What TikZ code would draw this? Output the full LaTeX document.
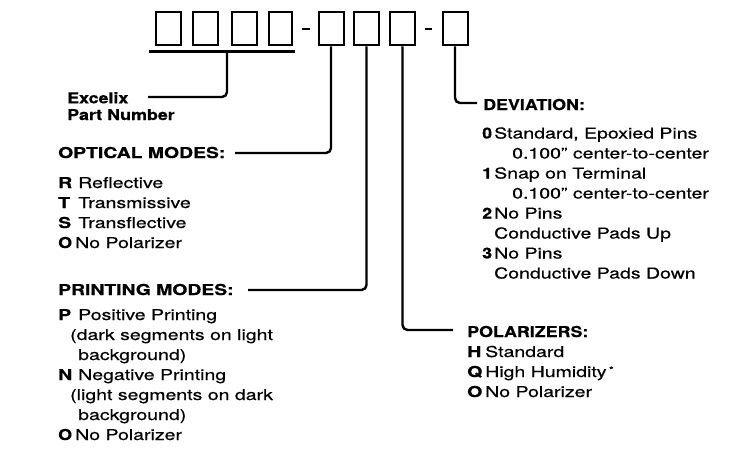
\documentclass[tikz,border=0pt]{standalone}
\usepackage{fontspec}
\setmainfont{TeX Gyre Heros}[FakeStretch=1.3,FakeBold=0.6]
\newfontfamily\widebold{TeX Gyre Heros}[FakeStretch=1.29,FakeBold=0.6]
\newfontfamily\narrowfont{TeX Gyre Heros}[FakeStretch=1.19,FakeBold=0.6]
\newcommand\codebox[2]{\makebox[#1][l]{\textbf{#2}}}
\newcommand\digitcode[1]{\makebox[12pt][l]{\narrowfont\bfseries #1}}
\newcommand\ocode{\makebox[17pt][l]{\narrowfont\bfseries O}}
\begin{document}
\begin{tikzpicture}[x=1pt,y=-1pt,
  font=\fontsize{15}{17}\selectfont,
  digitbox/.style={draw, line width=2pt, minimum width=25pt, minimum height=33pt, inner sep=0pt},
  conn/.style={line width=2.4pt, rounded corners=5pt},
  txt/.style={anchor=base west, inner sep=0pt},
  hdr/.style={txt, font=\fontsize{15}{17}\selectfont\widebold\bfseries},
  hdrn/.style={txt, font=\fontsize{15}{17}\selectfont\narrowfont\bfseries}]
\useasboundingbox (0,0) rectangle (730,452);

% part number boxes
\node[digitbox] (b1) at (168.5,29) {};
\node[digitbox] (b2) at (205.5,29) {};
\node[digitbox] (b3) at (244,29) {};
\node[digitbox, minimum width=23pt] (b4) at (280.5,29) {};
\node[digitbox] (b5) at (331,29) {};
\node[digitbox] (b6) at (366.5,29) {};
\node[digitbox] (b7) at (402.5,29) {};
\node[digitbox] (b8) at (455,29) {};
\draw[line width=2.5pt] (301.5,29) -- (309.5,29);
\draw[line width=2.5pt] (425,29) -- (432,29);

% underline of first four boxes
\coordinate (ulL) at (149,51.7);
\coordinate (ulR) at (295,51.7);
\coordinate (ul) at (227,51.7);
\draw[line width=2.5pt] (ulL) -- (ulR);

% connectors
\coordinate (exend) at (148,97);
\coordinate (omend) at (235,153);
\coordinate (pmend) at (248,290);
\coordinate (poend) at (453,330);
\coordinate (dvend) at (477,103);
\draw[conn] (ul) |- (exend);
\draw[conn] (b5.south) |- (omend);
\draw[conn] (b6.south) |- (pmend);
\draw[conn] (b7.south) |- (poend);
\draw[conn] (b8.south) |- (dvend);

% Excelix part number
\node[hdrn] (ex1) at (67,103.3) {Excelix};
\node[hdrn] (ex2) at (67,120) {Part Number};

% optical modes
\node[hdr] (omh) at (58,158) {OPTICAL MODES:};
\node[txt] (om1) at (58,188) {\codebox{20pt}{R}Reflective};
\node[txt] (om2) at (58,208) {\codebox{20pt}{T}Transmissive};
\node[txt] (om3) at (58,228) {\codebox{20pt}{S}Transflective};
\node[txt] (om4) at (58,248) {\ocode No Polarizer};

% printing modes
\node[hdr] (pmh) at (58,295) {PRINTING MODES:};
\node[txt] (pm1) at (58,320) {\codebox{20pt}{P}Positive Printing};
\node[txt] (pm2) at (70,340) {(dark segments on light};
\node[txt] (pm3) at (78,360) {background)};
\node[txt] (pm4) at (58,380) {\codebox{20pt}{N}Negative Printing};
\node[txt] (pm5) at (70,400) {(light segments on dark};
\node[txt] (pm6) at (78,420) {background)};
\node[txt] (pm7) at (58,440) {\ocode No Polarizer};

% deviation
\node[hdrn] (dvh) at (483,110) {DEVIATION:};
\node[txt] (dv1) at (482,138.5) {\digitcode{0}Standard, Epoxied Pins};
\node[txt] (dv2) at (512,158.5) {0.100'' center-to-center};
\node[txt] (dv3) at (482,178.5) {\digitcode{1}Snap on Terminal};
\node[txt] (dv4) at (512,198.5) {0.100'' center-to-center};
\node[txt] (dv5) at (482,218.5) {\digitcode{2}No Pins};
\node[txt] (dv6) at (494,238.5) {Conductive Pads Up};
\node[txt] (dv7) at (482,258.5) {\digitcode{3}No Pins};
\node[txt] (dv8) at (494,278.5) {Conductive Pads Down};

% polarizers
\node[hdrn] (poh) at (467,337) {POLARIZERS:};
\node[txt] (po1) at (467,357) {\codebox{18pt}{H}Standard};
\node[txt] (po2) at (467,377) {\codebox{18pt}{Q}High Humidity\,\raisebox{4pt}{\fontsize{9}{10}\selectfont *}};
\node[txt] (po3) at (467,397) {\codebox{18pt}{O}No Polarizer};
\end{tikzpicture}
\end{document}
